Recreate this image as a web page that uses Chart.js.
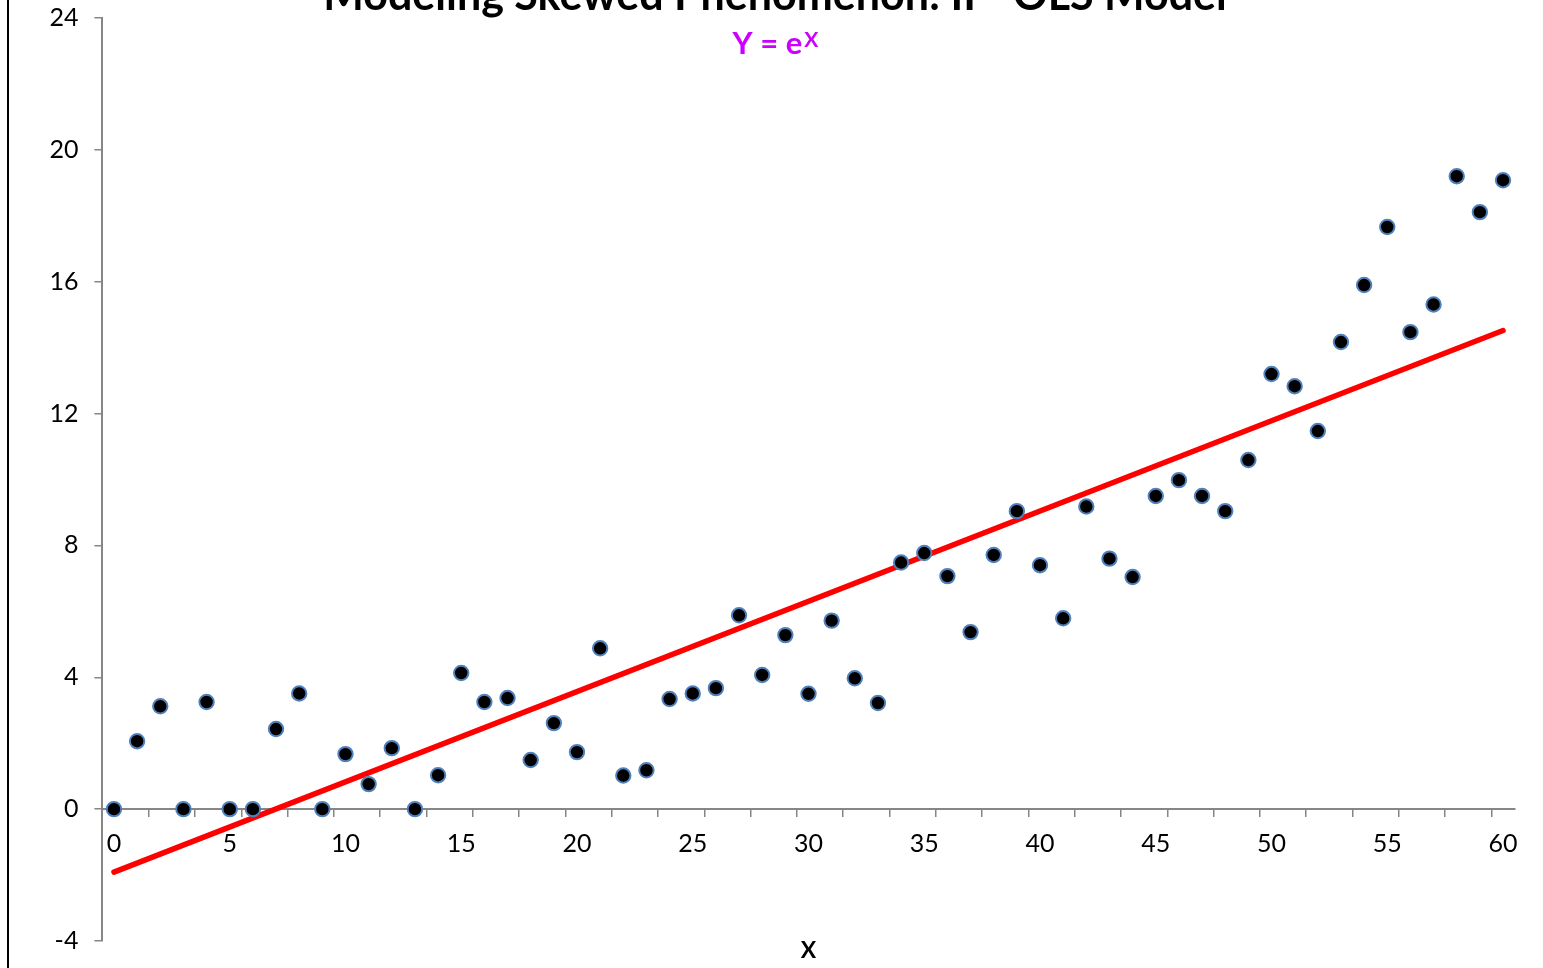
<!DOCTYPE html>
<html>
<head>
<meta charset="utf-8">
<script src="https://cdn.jsdelivr.net/npm/chart.js@4.4.1/dist/chart.umd.min.js"></script>
<style>
html,body{margin:0;padding:0;background:#ffffff;overflow:hidden}
#wrap{width:1543px;height:968px;position:relative}
canvas{display:block}
</style>
</head>
<body>
<div id="wrap"><canvas id="c" width="1543" height="968"></canvas></div>
<script>
// ---- data ----
const xValues = [0,1,2,3,4,5,6,7,8,9,10,11,12,13,14,15,16,17,18,19,20,21,22,23,24,25,26,27,28,29,30,31,32,33,34,35,36,37,38,39,40,41,42,43,44,45,46,47,48,49,50,51,52,53,54,55,56,57,58,59,60];
const yValues = [0,2.06,3.12,0,3.25,0,0,2.43,3.51,0,1.67,0.76,1.85,0,1.03,4.13,3.25,3.37,1.49,2.61,1.73,4.88,1.02,1.18,3.34,3.51,3.67,5.88,4.07,5.28,3.5,5.72,3.97,3.22,7.48,7.77,7.07,5.37,7.71,9.04,7.4,5.79,9.18,7.6,7.04,9.5,9.98,9.5,9.04,10.59,13.2,12.83,11.47,14.17,15.9,17.66,14.47,15.31,19.2,18.11,19.08];
const fitX = [0, 60];
const fitY = [-1.91, 14.52];
const yTickValues = [-4, 0, 4, 8, 12, 16, 20, 24];
const xLabelValues = [0, 5, 10, 15, 20, 25, 30, 35, 40, 45, 50, 55, 60];
const titleText = 'Modeling Skewed Phenomenon: II - OLS Model';
const subtitleMain = 'Y = e';
const subtitleSup = 'X';
const xAxisTitle = 'X';

// category-boundary tick marks every second boundary
const xTickMarks = [];
for (let v = 1.5; v < 60.5; v += 2) xTickMarks.push(v);

const AXIS_GRAY = '#868686';
const FONT = 'Lato, Carlito, Calibri, "Liberation Sans", sans-serif';

const decor = {
  id: 'decor',
  afterDraw(chart) {
    const ctx = chart.ctx;
    const area = chart.chartArea;
    ctx.save();
    // outer frame (left edge visible)
    ctx.fillStyle = '#000000';
    ctx.fillRect(7, 0, 2, chart.height);
    // title (partly cut off at the top)
    ctx.fillStyle = '#000000';
    ctx.textAlign = 'center';
    ctx.textBaseline = 'alphabetic';
    ctx.font = 'bold 43px ' + FONT;
    ctx.fillText(titleText, 775, 10);
    // subtitle with superscript
    ctx.font = 'bold 31px ' + FONT;
    const wMain = ctx.measureText(subtitleMain).width;
    ctx.font = 'bold 21px ' + FONT;
    const wSup = ctx.measureText(subtitleSup).width;
    const start = 775.5 - (wMain + 2 + wSup) / 2;
    ctx.textAlign = 'left';
    ctx.fillStyle = '#cc00ff';
    ctx.font = 'bold 31px ' + FONT;
    ctx.fillText(subtitleMain, start, 54);
    ctx.font = 'bold 21px ' + FONT;
    ctx.fillText(subtitleSup, start + wMain + 2, 47);
    // x axis title
    ctx.fillStyle = '#000000';
    ctx.textAlign = 'center';
    ctx.font = 'bold 23px ' + FONT;
    ctx.fillText(xAxisTitle, (area.left + area.right) / 2, 958);
    ctx.restore();
  }
};

new Chart(document.getElementById('c'), {
  type: 'scatter',
  data: {
    datasets: [
      {
        label: 'Observed',
        type: 'scatter',
        order: 0,
        data: xValues.map((x, i) => ({x: x, y: yValues[i]})),
        pointRadius: 7.2,
        pointHoverRadius: 7.2,
        pointBackgroundColor: '#000000',
        pointBorderColor: '#4f81bd',
        pointBorderWidth: 2,
        clip: false
      },
      {
        label: 'OLS',
        type: 'line',
        order: 1,
        data: fitX.map((x, i) => ({x: x, y: fitY[i]})),
        borderColor: '#ff0000',
        borderWidth: 5.5,
        borderCapStyle: 'round',
        pointRadius: 0,
        fill: false,
        tension: 0,
        clip: false
      }
    ]
  },
  options: {
    responsive: false,
    animation: false,
    devicePixelRatio: 1,
    layout: { autoPadding: false, padding: { left: 0, right: 28.4, top: 18, bottom: 27 } },
    plugins: {
      legend: { display: false },
      title: { display: false },
      tooltip: { enabled: false }
    },
    scales: {
      x: {
        type: 'linear',
        min: -0.5,
        max: 60.5,
        position: { y: 0 },
        afterBuildTicks(scale) {
          const vals = xLabelValues.concat(xTickMarks).sort((a, b) => a - b);
          scale.ticks = vals.map(v => ({ value: v }));
        },
        afterFit(scale) {
          scale.paddingLeft = 0; scale.paddingRight = 0;
          scale.paddingTop = 0; scale.paddingBottom = 0;
        },
        ticks: {
          autoSkip: false,
          maxRotation: 0,
          padding: 13,
          color: '#000000',
          font: { family: FONT, size: 25 },
          callback: (v) => xLabelValues.includes(v) ? String(v) : ''
        },
        grid: {
          display: true,
          drawOnChartArea: false,
          drawTicks: true,
          tickLength: 7,
          lineWidth: 1.5,
          tickColor: (ctx) => (ctx.tick && xTickMarks.includes(ctx.tick.value)) ? AXIS_GRAY : 'rgba(0,0,0,0)'
        },
        border: { display: true, color: AXIS_GRAY, width: 2 }
      },
      y: {
        type: 'linear',
        position: 'left',
        min: -4,
        max: 24,
        afterBuildTicks(scale) {
          scale.ticks = yTickValues.map(v => ({ value: v }));
        },
        afterFit(scale) {
          scale.width = 102.4;
          scale.paddingTop = 0; scale.paddingBottom = 0;
          scale.paddingLeft = 0; scale.paddingRight = 0;
        },
        ticks: {
          padding: 16,
          color: '#000000',
          font: { family: FONT, size: 25 }
        },
        grid: {
          display: true,
          drawOnChartArea: false,
          drawTicks: true,
          tickLength: 8,
          lineWidth: 1.5,
          tickColor: AXIS_GRAY
        },
        border: { display: true, color: AXIS_GRAY, width: 2 }
      }
    }
  },
  plugins: [decor]
});
</script>
</body>
</html>
